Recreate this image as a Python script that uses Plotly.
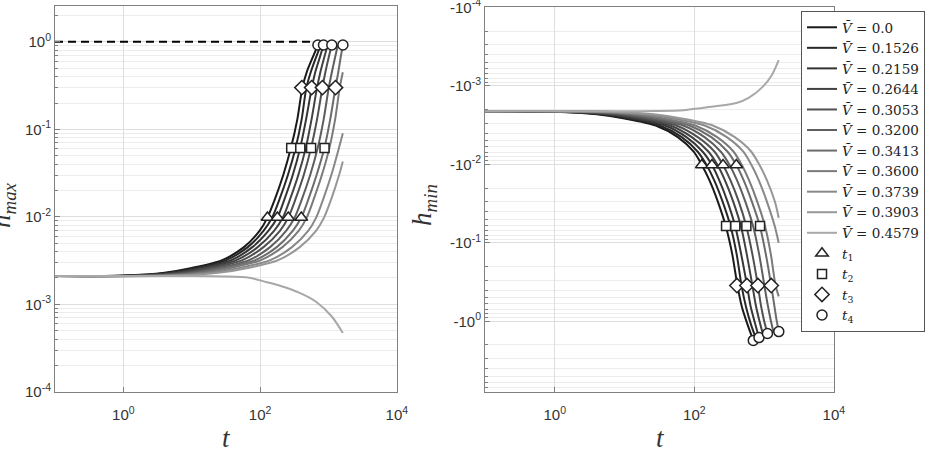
import plotly.graph_objects as go

# ---------------- data ----------------
V_labels = ["0.0", "0.1526", "0.2159", "0.2644", "0.3053", "0.3200",
            "0.3413", "0.3600", "0.3739", "0.3903", "0.4579"]
line_colors = ["#1a1a1a", "#282828", "#353535", "#424242", "#505050", "#5e5e5e",
               "#6c6c6c", "#7a7a7a", "#888888", "#979797", "#a8a8a8"]

# left panel: h_max(t)
left_t = [
    [0.1, 1, 4, 10, 28, 58, 98, 128, 165, 218, 282, 350, 415, 480, 580, 700],
    [0.1, 1.15, 4.6, 11.5, 32, 66, 112, 150, 193, 255, 330, 405, 475, 550, 650, 770],
    [0.1, 1.35, 5.4, 13.5, 38, 77, 132, 179, 228, 300, 385, 470, 570, 640, 740, 845],
    [0.1, 1.6, 6.4, 16, 45, 92, 160, 215, 275, 362, 465, 565, 680, 760, 860, 975],
    [0.1, 2, 7.8, 19.5, 55, 112, 195, 258, 330, 435, 555, 680, 815, 900, 1000, 1118],
    [0.1, 2.45, 9.8, 24.5, 69, 140, 240, 320, 410, 540, 695, 850, 1010, 1120, 1240, 1370],
    [0.1, 3, 12, 30, 85, 175, 300, 400, 510, 670, 870, 1060, 1265, 1390, 1500, 1625],
    [0.1, 3.7, 15, 37, 103, 212, 366, 480, 610, 800, 1030, 1250, 1460, 1620],
    [0.1, 5, 20, 50, 141, 292, 504, 660, 840, 1100, 1420, 1620],
    [0.1, 6.6, 26, 66, 184, 380, 656, 860, 1100, 1430, 1620],
    [0.1, 1, 10, 30, 69, 122, 200, 372, 657, 1125, 1620],
]
left_h = [
    [2.1e-3, 2.13e-3, 2.3e-3, 2.6e-3, 3.2e-3, 4.5e-3, 6.9e-3, 9.8e-3, 0.016, 0.03, 0.061, 0.13, 0.30, 0.45, 0.65, 0.92],
    [2.1e-3, 2.13e-3, 2.3e-3, 2.6e-3, 3.2e-3, 4.5e-3, 6.9e-3, 9.8e-3, 0.016, 0.03, 0.061, 0.13, 0.30, 0.45, 0.65, 0.92],
    [2.1e-3, 2.13e-3, 2.3e-3, 2.6e-3, 3.2e-3, 4.5e-3, 6.9e-3, 9.8e-3, 0.016, 0.03, 0.061, 0.13, 0.30, 0.45, 0.65, 0.92],
    [2.1e-3, 2.13e-3, 2.3e-3, 2.6e-3, 3.2e-3, 4.5e-3, 6.9e-3, 9.8e-3, 0.016, 0.03, 0.061, 0.13, 0.30, 0.45, 0.65, 0.92],
    [2.1e-3, 2.13e-3, 2.3e-3, 2.6e-3, 3.2e-3, 4.5e-3, 6.9e-3, 9.8e-3, 0.016, 0.03, 0.061, 0.13, 0.30, 0.45, 0.65, 0.92],
    [2.1e-3, 2.13e-3, 2.3e-3, 2.6e-3, 3.2e-3, 4.5e-3, 6.9e-3, 9.8e-3, 0.016, 0.03, 0.061, 0.13, 0.30, 0.45, 0.65, 0.92],
    [2.1e-3, 2.13e-3, 2.3e-3, 2.6e-3, 3.2e-3, 4.5e-3, 6.9e-3, 9.8e-3, 0.016, 0.03, 0.061, 0.13, 0.30, 0.45, 0.65, 0.92],
    [2.1e-3, 2.13e-3, 2.3e-3, 2.6e-3, 3.2e-3, 4.5e-3, 6.9e-3, 9.8e-3, 0.016, 0.03, 0.061, 0.13, 0.30, 0.45],
    [2.1e-3, 2.13e-3, 2.3e-3, 2.6e-3, 3.2e-3, 4.5e-3, 6.9e-3, 9.8e-3, 0.016, 0.03, 0.061, 0.09],
    [2.1e-3, 2.13e-3, 2.3e-3, 2.6e-3, 3.2e-3, 4.5e-3, 6.9e-3, 9.8e-3, 0.016, 0.03, 0.043],
    [2.1e-3, 2.1e-3, 2.1e-3, 2.08e-3, 2.01e-3, 1.8e-3, 1.62e-3, 1.36e-3, 1.07e-3, 7.2e-4, 4.7e-4],
]

# right panel: |h_min|(t)  (axis labelled with negative values)
right_t = left_t[:10] + [[0.1, 1, 10, 30, 70, 130, 200, 402, 600, 955, 1300, 1620]]
right_h = [
    [2.1e-3, 2.13e-3, 2.3e-3, 2.6e-3, 3.2e-3, 4.5e-3, 6.9e-3, 0.0102, 0.016, 0.03, 0.061, 0.14, 0.35, 0.65, 1.1, 1.75],
    [2.1e-3, 2.13e-3, 2.3e-3, 2.6e-3, 3.2e-3, 4.5e-3, 6.9e-3, 0.0102, 0.016, 0.03, 0.061, 0.14, 0.35, 0.65, 1.1, 1.68],
    [2.1e-3, 2.13e-3, 2.3e-3, 2.6e-3, 3.2e-3, 4.5e-3, 6.9e-3, 0.0102, 0.016, 0.03, 0.061, 0.14, 0.35, 0.64, 1.05, 1.61],
    [2.1e-3, 2.13e-3, 2.3e-3, 2.6e-3, 3.2e-3, 4.5e-3, 6.9e-3, 0.0102, 0.016, 0.03, 0.061, 0.14, 0.35, 0.62, 1.0, 1.52],
    [2.1e-3, 2.13e-3, 2.3e-3, 2.6e-3, 3.2e-3, 4.5e-3, 6.9e-3, 0.0102, 0.016, 0.03, 0.061, 0.14, 0.35, 0.62, 0.98, 1.43],
    [2.1e-3, 2.13e-3, 2.3e-3, 2.6e-3, 3.2e-3, 4.5e-3, 6.9e-3, 0.0102, 0.016, 0.03, 0.061, 0.14, 0.35, 0.60, 0.95, 1.39],
    [2.1e-3, 2.13e-3, 2.3e-3, 2.6e-3, 3.2e-3, 4.5e-3, 6.9e-3, 0.0102, 0.016, 0.03, 0.061, 0.14, 0.35, 0.60, 0.93, 1.35],
    [2.1e-3, 2.13e-3, 2.3e-3, 2.6e-3, 3.2e-3, 4.5e-3, 6.9e-3, 0.0102, 0.016, 0.03, 0.061, 0.14, 0.35, 0.48],
    [2.1e-3, 2.13e-3, 2.3e-3, 2.6e-3, 3.2e-3, 4.5e-3, 6.9e-3, 0.0102, 0.016, 0.03, 0.061, 0.10],
    [2.1e-3, 2.13e-3, 2.3e-3, 2.6e-3, 3.2e-3, 4.5e-3, 6.9e-3, 0.0102, 0.016, 0.03, 0.048],
    [2.1e-3, 2.1e-3, 2.1e-3, 2.09e-3, 2.04e-3, 1.91e-3, 1.82e-3, 1.65e-3, 1.42e-3, 1.03e-3, 7.2e-4, 4.7e-4],
]

# marker times t1..t4 (four of the curves)
t1 = [128, 179, 258, 400]
t2 = [285, 387, 557, 875]
t3 = [408, 567, 816, 1266]
t4 = [700, 845, 1118, 1625]
left_marker_h = [[0.0098] * 4, [0.061] * 4, [0.30] * 4, [0.92] * 4]
right_marker_h = [[0.0102] * 4, [0.061] * 4, [0.35] * 4, [1.75, 1.61, 1.43, 1.35]]
marker_symbols = ["triangle-up", "square", "diamond", "circle"]
marker_sizes = [11, 9, 11, 10]
marker_names = ["<i>t</i><sub>1</sub>", "<i>t</i><sub>2</sub>",
                "<i>t</i><sub>3</sub>", "<i>t</i><sub>4</sub>"]

dash_t = [0.1, 700]
dash_h = [1.0, 1.0]

x_tickvals = [1, 100, 10000]
x_ticktext = ["10<sup>0</sup>", "10<sup>2</sup>", "10<sup>4</sup>"]
yl_tickvals = [1e-4, 1e-3, 1e-2, 1e-1, 1]
yl_ticktext = ["10<sup>-4</sup>", "10<sup>-3</sup>", "10<sup>-2</sup>", "10<sup>-1</sup>", "10<sup>0</sup>"]
yr_tickvals = [1e-4, 1e-3, 1e-2, 1e-1, 1]
yr_ticktext = ["-10<sup>-4</sup>", "-10<sup>-3</sup>", "-10<sup>-2</sup>", "-10<sup>-1</sup>", "-10<sup>0</sup>"]

# ---------------- figure ----------------
W, H = 931, 460
fig = go.Figure()

for k in range(len(V_labels)):
    fig.add_trace(go.Scatter(
        x=left_t[k], y=left_h[k], mode="lines", xaxis="x", yaxis="y",
        line=dict(color=line_colors[k], width=2, shape="spline", smoothing=0.8),
        showlegend=False, hoverinfo="skip"))
fig.add_trace(go.Scatter(
    x=dash_t, y=dash_h, mode="lines", xaxis="x", yaxis="y",
    line=dict(color="#000000", width=2, dash="8px,5px"), showlegend=False))

for k in range(len(V_labels)):
    fig.add_trace(go.Scatter(
        x=right_t[k], y=right_h[k], mode="lines", xaxis="x2", yaxis="y2",
        line=dict(color=line_colors[k], width=2, shape="spline", smoothing=0.8),
        name="<i>V̄</i> = " + V_labels[k], showlegend=True))

times = [t1, t2, t3, t4]
for j in range(4):
    fig.add_trace(go.Scatter(
        x=times[j], y=left_marker_h[j], mode="markers", xaxis="x", yaxis="y",
        marker=dict(symbol=marker_symbols[j], size=marker_sizes[j], color="white",
                    line=dict(color="#222222", width=1.5)),
        showlegend=False))
for j in range(4):
    fig.add_trace(go.Scatter(
        x=times[j], y=right_marker_h[j], mode="markers", xaxis="x2", yaxis="y2",
        marker=dict(symbol=marker_symbols[j], size=marker_sizes[j], color="white",
                    line=dict(color="#222222", width=1.5)),
        name=marker_names[j], showlegend=True))

def minor_vals(lo, hi):
    vals = []
    for e in range(lo, hi + 1):
        for m in range(2, 10):
            vals.append(m * 10.0 ** e)
    return vals

tickfont = dict(family="Liberation Sans, Arial", size=15, color="#333333")
frame = "#808080"
common_x = dict(type="log", range=[-1, 4.002], tickmode="array", tickvals=x_tickvals,
                ticktext=x_ticktext, showgrid=True, gridcolor="#dedede", gridwidth=1,
                showline=True, mirror=True, linecolor=frame, linewidth=1,
                ticks="inside", ticklen=5, tickcolor=frame, tickfont=tickfont,
                ticklabelstandoff=9, ticklabeloverflow="allow", automargin=False,
                zeroline=False)
common_y = dict(type="log", tickmode="array", showgrid=True, gridcolor="#dedede",
                showline=True, mirror=True, linecolor=frame, linewidth=1,
                ticks="inside", ticklen=5, tickcolor=frame, tickfont=tickfont,
                ticklabeloverflow="allow", automargin=False,
                minor=dict(tickmode="array", tickvals=minor_vals(-5, 1), showgrid=True,
                           gridcolor="#ececec", ticks="inside", ticklen=3, tickcolor=frame),
                zeroline=False)

serif = "Liberation Serif, DejaVu Serif"
fig.update_layout(
    width=W, height=H, autosize=False,
    margin=dict(l=0, r=0, t=0, b=0, autoexpand=False),
    paper_bgcolor="white", plot_bgcolor="white",
    xaxis=dict(domain=[55 / W, 397 / W], anchor="y", **common_x),
    yaxis=dict(domain=[(H - 392) / H, (H - 6) / H], anchor="x", range=[-4.003, 0.41],
               tickvals=yl_tickvals, ticktext=yl_ticktext, **common_y),
    xaxis2=dict(domain=[485 / W, 834 / W], anchor="y2", **common_x),
    yaxis2=dict(domain=[(H - 392) / H, (H - 7) / H], anchor="x2", range=[0.9, -4.005],
                tickvals=yr_tickvals, ticktext=yr_ticktext, **common_y),
    legend=dict(x=801 / W, y=1 - 11 / H, xanchor="left", yanchor="top",
                bgcolor="white", bordercolor="#555555", borderwidth=1,
                font=dict(family="DejaVu Serif", size=13.5, color="#222222"),
                tracegroupgap=0, itemwidth=30),
    showlegend=True,
    annotations=[
        dict(text="<i>t</i>", xref="paper", yref="paper", x=226 / W, y=1 - 438 / H,
             xanchor="center", yanchor="middle",
             showarrow=False, font=dict(family=serif, size=27, color="#333333")),
        dict(text="<i>t</i>", xref="paper", yref="paper", x=660 / W, y=1 - 438 / H,
             xanchor="center", yanchor="middle",
             showarrow=False, font=dict(family=serif, size=27, color="#333333")),
        dict(text="<i>h</i><sub><i>max</i></sub>", xref="paper", yref="paper",
             x=3 / W, y=1 - 205 / H, xanchor="center", yanchor="middle",
             textangle=-90, showarrow=False,
             font=dict(family=serif, size=27, color="#333333")),
        dict(text="<i>h</i><sub><i>min</i></sub>", xref="paper", yref="paper",
             x=424 / W, y=1 - 205 / H, xanchor="center", yanchor="middle",
             textangle=-90, showarrow=False,
             font=dict(family=serif, size=27, color="#333333")),
    ],
)

fig.write_html("out.html")
